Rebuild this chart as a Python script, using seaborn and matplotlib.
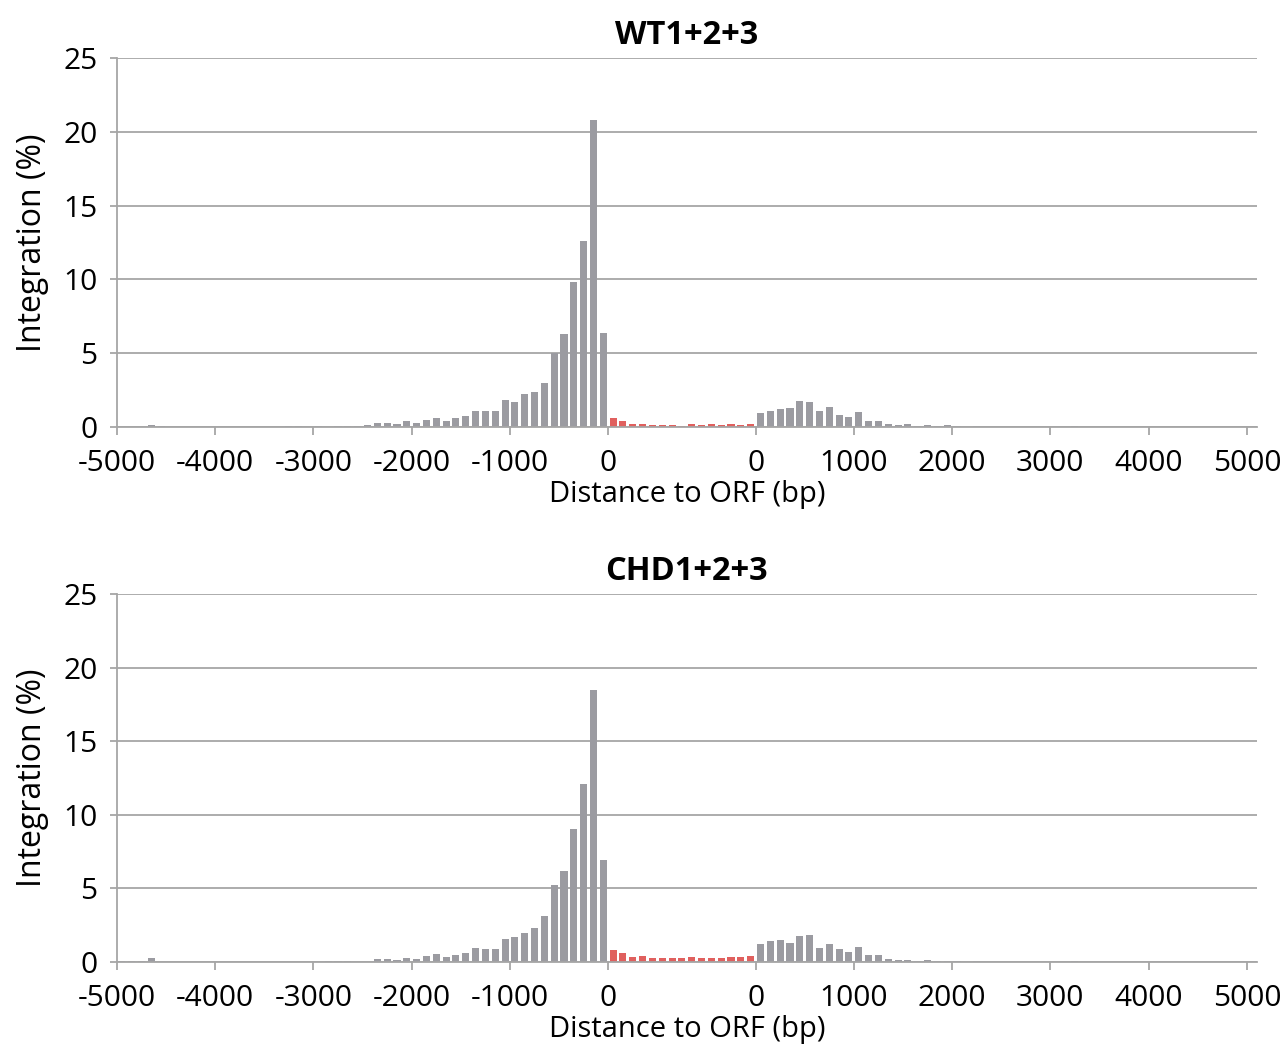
import numpy as np
import pandas as pd
import matplotlib
matplotlib.use("Agg")
import matplotlib.pyplot as plt
import seaborn as sns

sns.set_theme(style="white")
plt.rcParams['font.family'] = ['Open Sans', 'DejaVu Sans']
plt.rcParams['text.color'] = 'black'
plt.rcParams['axes.labelcolor'] = 'black'
plt.rcParams['xtick.labelcolor'] = 'black'
plt.rcParams['ytick.labelcolor'] = 'black'

# ---------------- data (integration %, 100-bp bins) ----------------
titles = ["WT1+2+3", "CHD1+2+3"]

# upstream: -5000 .. 0 (50 bins)
wt_up = [0.02, 0.02, 0.03, 0.10, 0.05, 0.02, 0.02, 0.02, 0.02, 0.01,
         0.02, 0.02, 0.02, 0.02, 0.02, 0.02, 0.03, 0.04, 0.05, 0.03,
         0.05, 0.03, 0.04, 0.05, 0.06,
         0.10, 0.27, 0.30, 0.20, 0.40, 0.30, 0.47, 0.59, 0.43, 0.59,
         0.72, 1.06, 1.06, 1.06, 1.80, 1.71, 2.20, 2.36, 3.00, 5.00,
         6.30, 9.80, 12.60, 20.80, 6.40]
# ORF (15 bins)
wt_orf = [0.62, 0.43, 0.20, 0.20, 0.14, 0.14, 0.14, 0.09, 0.23, 0.14,
          0.20, 0.16, 0.20, 0.16, 0.20]
# downstream: 0 .. 5000 (50 bins)
wt_down = [0.97, 1.08, 1.22, 1.31, 1.76, 1.72, 1.08, 1.38, 0.81, 0.65,
           1.02, 0.38, 0.43, 0.20, 0.16, 0.18, 0.09, 0.11, 0.09, 0.11,
           0.07, 0.02, 0.09, 0.02, 0.02, 0.01, 0.02, 0.01, 0.01, 0.01,
           0.01, 0.01, 0.04, 0.01, 0.01, 0.01, 0.01, 0.01, 0.01, 0.01,
           0.01, 0.01, 0.01, 0.01, 0.01, 0.01, 0.01, 0.01, 0.01, 0.01]

chd_up = [0.09, 0.09, 0.07, 0.25, 0.02, 0.02, 0.02, 0.02, 0.02, 0.01,
          0.02, 0.02, 0.02, 0.02, 0.02, 0.02, 0.03, 0.02, 0.02, 0.02,
          0.02, 0.07, 0.04, 0.04, 0.03,
          0.03, 0.18, 0.18, 0.11, 0.25, 0.18, 0.40, 0.52, 0.36, 0.50,
          0.63, 0.97, 0.90, 0.90, 1.58, 1.70, 1.95, 2.30, 3.10, 5.23,
          6.20, 9.05, 12.08, 18.50, 6.92]
chd_orf = [0.79, 0.59, 0.34, 0.38, 0.27, 0.27, 0.25, 0.25, 0.32, 0.25,
           0.27, 0.29, 0.34, 0.32, 0.41]
chd_down = [1.22, 1.40, 1.47, 1.27, 1.74, 1.83, 0.95, 1.22, 0.86, 0.66,
            1.00, 0.45, 0.50, 0.18, 0.11, 0.11, 0.07, 0.11, 0.07, 0.07,
            0.07, 0.02, 0.05, 0.02, 0.01, 0.01, 0.01, 0.01, 0.01, 0.01,
            0.01, 0.01, 0.04, 0.01, 0.01, 0.01, 0.01, 0.01, 0.01, 0.01,
            0.01, 0.01, 0.01, 0.01, 0.01, 0.01, 0.01, 0.01, 0.03, 0.01]

xtick_labels = ["-5000", "-4000", "-3000", "-2000", "-1000", "0",
                "0", "1000", "2000", "3000", "4000", "5000"]
ytick_values = [0, 5, 10, 15, 20, 25]

panels = [(wt_up, wt_orf, wt_down), (chd_up, chd_orf, chd_down)]

gray = "#9b9ba1"
red = "#e0605e"
axcol = "#a6a6a6"


def make_df(up, orf, down):
    n_up, n_orf, n_down = len(up), len(orf), len(down)
    pos = ([i + 0.5 for i in range(n_up)] +
           [n_up + j + 0.5 for j in range(n_orf)] +
           [n_up + n_orf + k + 0.5 for k in range(n_down)])
    region = ["flank"] * n_up + ["orf"] * n_orf + ["flank"] * n_down
    return pd.DataFrame({"pos": pos, "val": list(up) + list(orf) + list(down),
                         "region": region})


fig = plt.figure(figsize=(12.81, 10.47), dpi=100)
ax_rects = [[0.0913, 0.5922, 0.8897, 0.3524],
            [0.0913, 0.0812, 0.8897, 0.3515]]

for (up, orf, down), title, rect in zip(panels, titles, ax_rects):
    ax = fig.add_axes(rect)
    df = make_df(up, orf, down)
    sns.barplot(data=df, x="pos", y="val", hue="region",
                palette={"flank": gray, "orf": red}, native_scale=True,
                width=0.72, dodge=False, legend=False, saturation=1,
                linewidth=0, ax=ax)
    n_up, n_orf = len(up), len(orf)
    tick_pos = [0, 10, 20, 30, 40, 50,
                n_up + n_orf, n_up + n_orf + 10, n_up + n_orf + 20,
                n_up + n_orf + 30, n_up + n_orf + 40, n_up + n_orf + 50]
    ax.set_xticks(tick_pos)
    ax.set_xticklabels(xtick_labels, fontsize=21.5, color="black")
    ax.set_xlim(0, len(df) + 1)
    ax.set_ylim(0, 25)
    ax.set_yticks(ytick_values)
    ax.set_yticklabels([str(v) for v in ytick_values], fontsize=21.5,
                       color="black")
    ax.yaxis.grid(True, color=axcol, linewidth=1.3)
    ax.set_axisbelow(True)
    for s in ["top", "right"]:
        ax.spines[s].set_visible(False)
    for s in ["left", "bottom"]:
        ax.spines[s].set_color(axcol)
        ax.spines[s].set_linewidth(1.3)
    ax.tick_params(axis="x", direction="out", length=6, width=1.3,
                   color=axcol, pad=10, bottom=True)
    ax.tick_params(axis="y", direction="out", length=5, width=1.3,
                   color=axcol, pad=9, left=True)
    ax.set_xlabel("Distance to ORF (bp)", fontsize=21, labelpad=1,
                  color="black")
    ax.set_ylabel("Integration (%)", fontsize=23, labelpad=10, color="black")
    ax.set_title(title, fontsize=23.5, fontweight="bold", pad=10,
                 color="black")

fig.savefig("out.png", dpi=100)
